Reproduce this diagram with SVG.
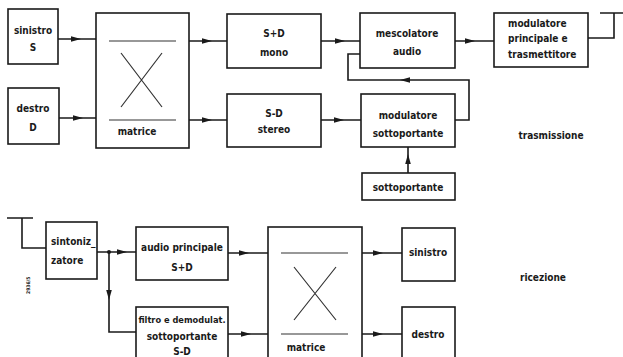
<svg xmlns="http://www.w3.org/2000/svg" xmlns:xlink="http://www.w3.org/1999/xlink" width="623" height="357" viewBox="0 0 623 357">
<style>
.box{fill:none;stroke:#1a1a1a;stroke-width:1.6}
.ln{fill:none;stroke:#1a1a1a;stroke-width:1.6}
.thin{fill:none;stroke:#333;stroke-width:1.2}
text{font-family:"DejaVu Sans Condensed","DejaVu Sans",sans-serif;font-size:10px;font-weight:bold;fill:#1a1a1a}
.c{text-anchor:middle}
</style>
<defs>
<path id="ar" d="M-5,-2.8 L5,0 L-5,2.8 Z" fill="#1a1a1a"/>
</defs>
<rect width="623" height="357" fill="#fff"/>
<g id="connectors">
<path class="ln" d="M58,39 H96"/><use xlink:href="#ar" transform="translate(76,39)"/>
<path class="ln" d="M59,118 H96"/><use xlink:href="#ar" transform="translate(78,118)"/>
<path class="ln" d="M189,41 H227"/><use xlink:href="#ar" transform="translate(207,41)"/>
<path class="ln" d="M189,120 H227"/><use xlink:href="#ar" transform="translate(207,120)"/>
<path class="ln" d="M321,41 H360"/><use xlink:href="#ar" transform="translate(340,41)"/>
<path class="ln" d="M321,120 H361"/><use xlink:href="#ar" transform="translate(339,120)"/>
<path class="ln" d="M455,41 H494"/><use xlink:href="#ar" transform="translate(470,41)"/>
<path class="ln" d="M455,120 H469 V80 H348 V54 H360"/><use xlink:href="#ar" transform="translate(405,80) rotate(180)"/>
<path class="ln" d="M408,173 V147"/><use xlink:href="#ar" transform="translate(408,159) rotate(-90)"/>
<path class="ln" d="M588,38 H614 V13 M600,13 H623"/>
<path class="ln" d="M7,218 H33 M22,218 V248 H46"/>
<path class="ln" d="M97,252 H136"/><circle cx="109" cy="252" r="2" fill="#1a1a1a"/><use xlink:href="#ar" transform="translate(122,252)"/>
<path class="ln" d="M109,252 V332 H136"/><use xlink:href="#ar" transform="translate(109,295) rotate(90)"/>
<path class="ln" d="M228,253 H268"/><use xlink:href="#ar" transform="translate(244,253)"/>
<path class="ln" d="M228,334 H268"/><use xlink:href="#ar" transform="translate(246,334)"/>
<path class="ln" d="M362,253 H402"/><use xlink:href="#ar" transform="translate(378,253)"/>
<path class="ln" d="M362,334 H402"/><use xlink:href="#ar" transform="translate(378,334)"/>
</g>
<g id="sinistro-in"><rect class="box" x="8" y="9" width="50" height="55"/><text class="c" x="33" y="34">sinistro</text><text class="c" x="33" y="51">S</text></g>
<g id="destro-in"><rect class="box" x="8" y="88" width="51" height="56"/><text class="c" x="33" y="112">destro</text><text class="c" x="33" y="131">D</text></g>
<g id="matrice-tx"><rect class="box" x="96" y="13" width="93" height="135"/><path class="thin" d="M109,41 H176 M109,120 H176 M121,53 L162,107 M162,53 L121,107"/><text class="c" x="137" y="135">matrice</text></g>
<g id="somma"><rect class="box" x="227" y="14" width="94" height="54"/><text class="c" x="274" y="37">S+D</text><text class="c" x="274" y="56">mono</text></g>
<g id="differenza"><rect class="box" x="227" y="94" width="94" height="53"/><text class="c" x="274" y="117">S-D</text><text class="c" x="274" y="133">stereo</text></g>
<g id="mescolatore"><rect class="box" x="360" y="13" width="95" height="55"/><text class="c" x="407" y="37">mescolatore</text><text class="c" x="407" y="55">audio</text></g>
<g id="modulatore-sott"><rect class="box" x="361" y="94" width="94" height="53"/><text class="c" x="408" y="119">modulatore</text><text class="c" x="408" y="137">sottoportante</text></g>
<g id="sottoportante"><rect class="box" x="362" y="173" width="93" height="27"/><text class="c" x="408" y="191">sottoportante</text></g>
<g id="modulatore-princ"><rect class="box" x="494" y="13" width="94" height="54"/><text x="508" y="27">modulatore</text><text x="508" y="42">principale e</text><text x="508" y="58">trasmettitore</text></g>
<g id="label-tx"><text class="c" x="551" y="139">trasmissione</text></g>
<g id="sintonizzatore"><rect class="box" x="46" y="222" width="51" height="57"/><text x="51" y="245">sintoniz_</text><text x="51" y="264">zatore</text></g>
<g id="audio-princ"><rect class="box" x="136" y="227" width="92" height="53"/><text class="c" x="182" y="251">audio principale</text><text class="c" x="182" y="271">S+D</text></g>
<g id="filtro"><rect class="box" x="136" y="307" width="92" height="56"/><text class="c" x="182" y="323" style="font-size:9.2px">filtro e demodulat.</text><text class="c" x="182" y="340">sottoportante</text><text class="c" x="182" y="355">S-D</text></g>
<g id="matrice-rx"><rect class="box" x="268" y="227" width="94" height="136"/><path class="thin" d="M281,253 H348 M281,334 H348 M294,267 L336,320 M336,267 L294,320"/><text class="c" x="306" y="351">matrice</text></g>
<g id="sinistro-out"><rect class="box" x="402" y="228" width="53" height="53"/><text class="c" x="428" y="256">sinistro</text></g>
<g id="destro-out"><rect class="box" x="402" y="307" width="53" height="56"/><text class="c" x="428" y="338">destro</text></g>
<g id="label-rx"><text class="c" x="543" y="281">ricezione</text></g>
<text transform="translate(30,294) rotate(-90)" style="font-size:5px">2936/5</text>
</svg>
